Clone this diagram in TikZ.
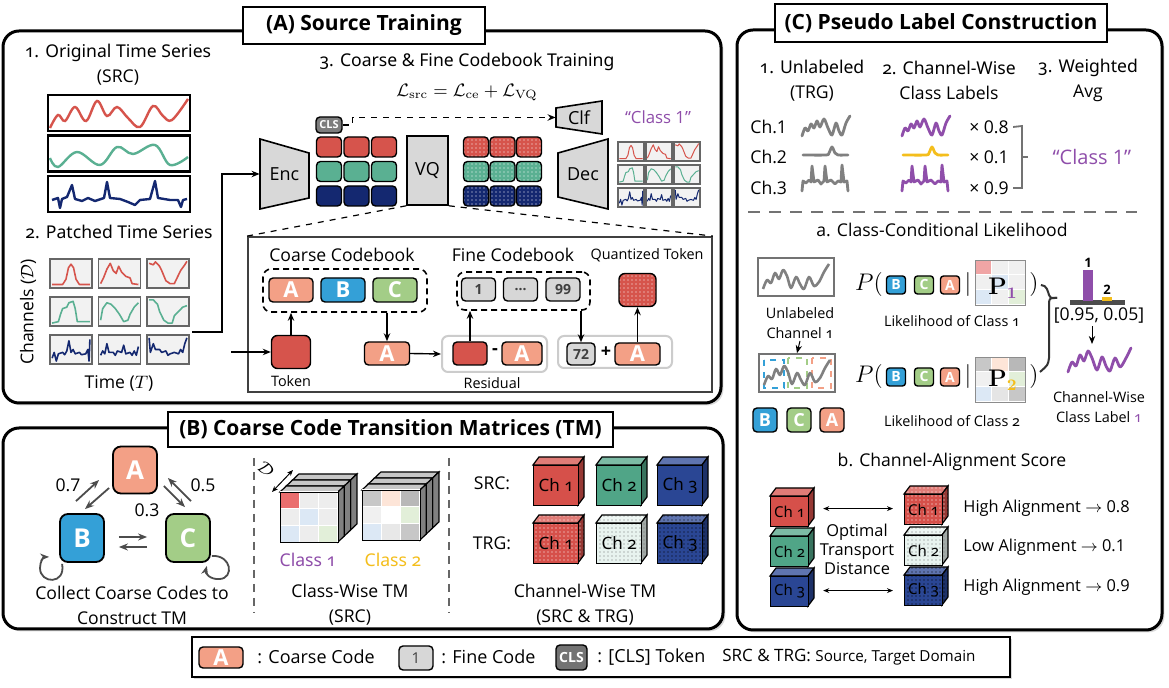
\documentclass[tikz,border=0pt]{standalone}
\usepackage[no-math]{fontspec}
\setmainfont{Open Sans}
\newfontfamily\osf{Noto Sans}[Numbers=OldStyle]
\usetikzlibrary{arrows.meta,patterns,shadows}

\definecolor{tsred}{RGB}{214,84,76}
\definecolor{tsgreen}{RGB}{90,176,146}
\definecolor{tsnavy}{RGB}{20,40,112}
\definecolor{tsgray}{RGB}{128,128,128}
\definecolor{codeA}{RGB}{243,160,134}
\definecolor{codeB}{RGB}{52,160,215}
\definecolor{codeC}{RGB}{163,205,135}
\definecolor{finegray}{RGB}{215,215,215}
\definecolor{clsgray}{RGB}{125,125,125}
\definecolor{clspurple}{RGB}{143,78,170}
\definecolor{clsyellow}{RGB}{244,190,28}
\definecolor{blockgray}{RGB}{216,216,216}
\definecolor{cbred}{RGB}{234,110,110}
\definecolor{cpink}{RGB}{240,165,165}
\definecolor{cblue}{RGB}{220,232,245}
\definecolor{cgreen}{RGB}{226,239,217}
\definecolor{corange}{RGB}{253,229,216}
\definecolor{cubered}{RGB}{214,80,74}
\definecolor{cubegreen}{RGB}{80,165,135}
\definecolor{cubenavy}{RGB}{42,70,148}
\definecolor{trgtwo}{RGB}{232,243,239}

\pgfdeclarepatternformonly{finedots}{\pgfqpoint{-1pt}{-1pt}}{\pgfqpoint{1pt}{1pt}}{\pgfqpoint{2pt}{2pt}}{\pgfpathcircle{\pgfqpoint{0pt}{0pt}}{0.35pt}\pgfusepath{fill}}

\tikzset{
  panel/.style={line width=1.5pt, rounded corners=8pt, fill=white,
    drop shadow={shadow xshift=1.2pt, shadow yshift=-1.2pt, opacity=0.3}},
  ptitle/.style={draw, line width=1.2pt, fill=white, inner sep=0pt,
    font=\bfseries\fontsize{10.5}{12}\selectfont},
  lbl/.style={font=\fontsize{8.8}{12.5}\selectfont, align=center, inner sep=1pt},
  sml/.style={font=\fontsize{7.2}{10}\selectfont, align=center, inner sep=1pt},
  legt/.style={font=\fontsize{9}{10}\selectfont, inner sep=0pt},
  chip/.style={draw, line width=0.7pt, rounded corners=2pt, inner sep=0pt},
  ccode/.style={chip, text=white, font=\bfseries\fontsize{11}{11}\selectfont,
    minimum width=22pt, minimum height=12pt},
  bigcode/.style={chip, rounded corners=4pt, line width=0.9pt, text=white,
    font=\bfseries\fontsize{13}{13}\selectfont, minimum width=22pt, minimum height=23.5pt},
  fcode/.style={chip, fill=finegray, text=black!75, font=\bfseries\fontsize{7}{7}\selectfont,
    minimum width=17pt, minimum height=11.5pt},
  pcode/.style={chip, rounded corners=1.5pt, text=white, font=\bfseries\fontsize{7}{7}\selectfont,
    minimum width=9.5pt, minimum height=9pt},
  scode/.style={chip, text=white, font=\bfseries\fontsize{9}{9}\selectfont,
    minimum width=12pt, minimum height=12pt},
  block/.style={draw, line width=0.8pt, fill=blockgray},
  blocktext/.style={font=\fontsize{9}{10}\selectfont, inner sep=0pt},
  dashbox/.style={draw, line width=0.8pt, rounded corners=4pt, dash pattern=on 3pt off 2pt},
  patchbox/.style={draw=black!60, line width=0.6pt, fill=black!5},
  arr/.style={-{Stealth[length=4pt,width=3.2pt]}, line width=0.7pt},
  tarr/.style={-{Stealth[length=4.5pt,width=3.5pt]}, line width=0.9pt, draw=black!70},
  dbl/.style={{Stealth[length=3pt,width=2.4pt]}-{Stealth[length=3pt,width=2.4pt]}, line width=0.5pt},
  serline/.style={line width=1.4pt, line join=round, line cap=round},
  brk/.style={draw=black!55, line width=0.9pt},
  divider/.style={draw=black!60, line width=0.9pt, dash pattern=on 4pt off 3pt}
}

% patch curves, unit box 10 x 10 (y down)
\newcommand{\shRa}{(0.5,8.8) (3,8.8) (3.8,7) (4.4,3) (5,1.8) (5.6,3) (6.2,7) (7,8.8) (9.5,8.8)}
\newcommand{\shRb}{(0.5,8.5) (1.2,6.5) (2,3.5) (2.8,1.5) (3.5,4) (4.2,5) (4.8,2.5) (5.5,4.5) (6.5,6) (7.5,6.5) (8,8.5) (9.5,8.8)}
\newcommand{\shRc}{(0.5,1.5) (1.5,2) (2,1) (3,2.5) (3.5,4) (4.5,7.5) (5.5,8.5) (6.5,8.5) (7,7) (8,4) (9,2) (9.5,0.8)}
\newcommand{\shGa}{(0.5,9) (2,8.5) (2.5,6) (3,4) (4,3.5) (4.5,2) (5.5,1.5) (6,4) (6.5,8.5) (9.5,8.5)}
\newcommand{\shGb}{(0.5,8) (1,4) (2,2) (3,2.5) (4,4) (5,6) (6,8.5) (7,8) (7.5,6) (8.5,3.5) (9.5,2)}
\newcommand{\shGc}{(0.5,1) (1.5,1) (2.5,2.5) (3,5) (4,8) (5,9) (6,9) (6.5,6.5) (7.5,5) (8.5,3.5) (9.5,3)}
\newcommand{\shNa}{(0.5,8) (1,6) (1.5,9) (2,6.5) (3,6) (3.5,6.8) (4,5.5) (4.5,2) (5,6) (5.5,5) (6,6.5) (7,6) (7.5,6.8) (8.5,6.5) (9,5) (9.3,9) (9.5,1.5)}
\newcommand{\shNb}{(0.5,7) (1,5.5) (1.5,6.5) (2,3) (2.5,6) (3.5,6) (4,7) (4.5,5.5) (5.5,6) (6,3.5) (6.5,6.5) (7.5,6) (8,7) (8.5,5.5) (9,7) (9.5,4)}
\newcommand{\shNc}{(0.5,1) (0.8,6) (1.5,3) (2,5) (3,5) (3.5,6) (4.5,5.5) (5,7) (5.5,6.5) (6.5,6) (7.5,6.5) (8,5) (8.5,6) (9,3) (9.5,1)}

% x0, y0, w, h, dx, dy, line width
\newcommand{\patchgrid}[7]{%
  \foreach \gc/\gr/\gcol/\gsh in {0/0/tsred/\shRa, 1/0/tsred/\shRb, 2/0/tsred/\shRc,
      0/1/tsgreen/\shGa, 1/1/tsgreen/\shGb, 2/1/tsgreen/\shGc,
      0/2/tsnavy/\shNa, 1/2/tsnavy/\shNb, 2/2/tsnavy/\shNc}{%
    \draw[patchbox] ({#1+\gc*#5},{#2+\gr*#6}) rectangle ++(#3,#4);
    \begin{scope}[shift={({#1+\gc*#5},{#2+\gr*#6})}, x=#3*0.05pt, y=-#4*0.05pt]
      \edef\tmpplot{\noexpand\draw[\gcol, line width=#7, line join=round] plot coordinates {\gsh};}%
      \tmpplot
    \end{scope}}}

% x, y, cell w, cell h, nine colours
\newcommand{\cellgrid}[5]{%
  \foreach \gcol [count=\ci from 0] in {#5}{%
    \pgfmathtruncatemacro\cgc{mod(\ci,3)}%
    \pgfmathtruncatemacro\cgr{(\ci-\cgc)/3}%
    \filldraw[fill=\gcol, draw=white, line width=0.5pt] ({#1+\cgc*#3},{#2+\cgr*#4}) rectangle ++(#3,#4);}}

% stacked class-wise TM: x, y, name, nine colours
\newcommand{\tmstack}[4]{%
  \foreach \k in {2,1,0}{%
    \draw[line width=0.6pt, fill=black!22] ({#1+6.3*\k},{#2-6*\k}) -- ++(6.3,-6) -- ++(58,0) -- ++(-6.3,6) -- cycle;
    \draw[line width=0.6pt, fill=black!50] ({#1+58+6.3*\k},{#2-6*\k}) -- ++(6.3,-6) -- ++(0,50) -- ++(-6.3,6) -- cycle;}
  \cellgrid{#1}{#2}{19.33}{16.67}{#4}
  \node[draw, line width=0.6pt, minimum width=29pt, minimum height=25pt, inner sep=0pt, anchor=north west] (#3) at (#1,#2) {};}

% channel cube: name, x, y, w, h, colour, pattern, label
\newcommand{\chcube}[8]{%
  \path[draw, line width=0.6pt, preaction={fill=#6!75!white}, #7] (#2,#3) -- ++(6,-8) -- ++(#4,0) -- ++(-6,8) -- cycle;
  \path[draw, line width=0.6pt, preaction={fill=#6!70!black}, #7] ({#2+#4},#3) -- ++(6,-8) -- ++(0,#5) -- ++(-6,8) -- cycle;
  \node[draw, line width=0.6pt, preaction={fill=#6}, #7, minimum width=#4*0.5pt, minimum height=#5*0.5pt,
    inner sep=0pt, anchor=north west] (#1) at (#2,#3) {#8};}

\begin{document}
\begin{tikzpicture}[x=0.5pt, y=-0.5pt]
\useasboundingbox (0,0) rectangle (1169,688);

% panels
\draw[panel] (3,31) rectangle (721,403);
\draw[panel] (3,428) rectangle (723,629);
\draw[panel] (737,30) rectangle (1162,630);
\node[ptitle, minimum width=121pt, minimum height=18.5pt] (tA) at (364,25.5) {(A) Source Training};
\node[ptitle, minimum width=222.5pt, minimum height=17.5pt] (tB) at (390.5,429.5) {(B) Coarse Code Transition Matrices (TM)};
\node[ptitle, minimum width=166pt, minimum height=19pt] (tC) at (941,23) {(C) Pseudo Label Construction};

%% (A) original series
\node[lbl] (orig) at (118,65) {\osf 1. Original Time Series\\(SRC)};
\node[draw, line width=1.2pt, minimum width=71pt, minimum height=18pt] (ser1) at (119,113) {};
\node[draw, line width=1.2pt, minimum width=71pt, minimum height=18pt] (ser2) at (119,153.5) {};
\node[draw, line width=1.2pt, minimum width=71pt, minimum height=18pt] (ser3) at (119,194) {};
\draw[tsred, line width=1.2pt] plot[smooth, tension=0.6] coordinates {(50,128) (58,115) (65,121) (75,107) (86,121) (97,101) (107,116) (117,107) (128,118) (140,127) (153,106) (163,116) (172,120) (188,99)};
\draw[tsgreen, line width=1.2pt] plot[smooth, tension=0.6] coordinates {(50,158) (58,167) (77,152) (100,165) (117,147) (133,154) (155,145) (170,165) (188,157)};
\draw[tsnavy, line width=1.2pt, line join=round] plot coordinates {(52,200) (58,198) (60,208) (62,199) (67,197) (72,185) (75,199) (82,201) (88,198) (95,201) (104,198) (107,182) (110,198) (120,199) (128,202) (135,205) (140,200) (150,199) (155,181) (158,198) (170,200) (178,200) (181,207) (183,200) (187,199)};

%% (A) patched series
\node[lbl] (patt) at (119,232) {\osf 2. Patched Time Series};
\node[lbl, rotate=90] (chan) at (28,312) {Channels ($\mathcal{D}$)};
\patchgrid{50}{259}{42}{29}{48.5}{38}{0.8pt}
\node[lbl] (time) at (119,383) {Time ($T$)};

%% (A) codebook training
\node[lbl] (cfct) at (467,62) {\osf 3. Coarse \& Fine Codebook Training};
\node[font=\fontsize{9}{10}\selectfont] (loss) at (467,93) {$\mathcal{L}_{\mathrm{src}}=\mathcal{L}_{\mathrm{ce}}+\mathcal{L}_{\mathrm{VQ}}$};

\draw[block] (260,139) -- (309,153) -- (309,198) -- (260,209) -- cycle;
\node[blocktext, minimum width=24.5pt, minimum height=35pt] (enc) at (284.5,174) {Enc};
\node[block, blocktext, minimum width=20.5pt, minimum height=34.5pt] (vq) at (427.5,170.5) {VQ};
\draw[block] (558,153) -- (608,139) -- (608,209) -- (558,197) -- cycle;
\node[blocktext, minimum width=25pt, minimum height=35pt] (dec) at (583,174) {Dec};
\draw[block] (556,108) -- (602,101) -- (602,134) -- (556,127) -- cycle;
\node[blocktext, minimum width=23pt, minimum height=13pt] (clf) at (579,117.5) {Clf};
\coordinate (pgout) at (192,332);
\draw[arr] (pgout) -- (222,332) |- (enc.west);

\node[chip, fill=clsgray, minimum width=13pt, minimum height=8pt, text=white,
  font=\bfseries\fontsize{5.5}{6}\selectfont] (cls) at (329,125) {CLS};
\draw[arr, dashed] (cls.east) -- ++(10,0) |- (clf.west);

\foreach \r/\col in {0/tsred, 1/tsgreen, 2/tsnavy}
  \foreach \c in {0,1,2}{
    \node[chip, fill=\col, minimum width=12.5pt, minimum height=10pt] (tk-\r-\c) at ({329+27.5*\c},{147+24.5*\r}) {};
    \node[chip, preaction={fill=\col}, pattern=finedots, pattern color=white,
      minimum width=12.5pt, minimum height=10pt] (qt-\r-\c) at ({476+26.5*\c},{147+24.5*\r}) {};
  }
\node[lbl, text=clspurple, font=\fontsize{8.4}{10}\selectfont] (out1) at (658,117) {“Class 1”};
\patchgrid{618}{142}{26}{19}{28}{23}{0.5pt}

%% (A) codebook detail
\node[draw=black!75, line width=0.9pt, minimum width=232pt, minimum height=77.5pt] (detail) at (480,314.5) {};
\draw[dashed, line width=0.6pt] (vq.south west) -- (detail.north west);
\draw[dashed, line width=0.6pt] (vq.south east) -- (detail.north east);

\node[lbl] (ccbt) at (342,255) {Coarse Codebook};
\node[dashbox, minimum width=82pt, minimum height=21.5pt] (ccb) at (345,290.5) {};
\node[ccode, fill=codeA] (cbA) at (291,290) {A};
\node[ccode, fill=codeB] (cbB) at (343,290) {B};
\node[ccode, fill=codeC] (cbC) at (395,290) {C};
\node[chip, fill=tsred, rounded corners=3pt, minimum width=19.5pt, minimum height=16.5pt] (tok) at (291,352) {};
\node[sml] (tokl) at (291,381) {Token};
\coordinate (tokin) at (231,352);
\draw[arr] (tokin) -- (tok.west);
\draw[arr] (tok.north) -- (tok |- ccb.south);
\node[ccode, fill=codeA, minimum width=22.5pt, minimum height=11.5pt] (selA) at (387,353.5) {A};
\draw[arr] (selA |- ccb.south) -- (selA.north);

\node[draw=black!20, line width=1pt, rounded corners=3pt, minimum width=52.5pt, minimum height=18pt] (res) at (494.5,354) {};
\node[chip, fill=tsred, minimum width=17pt, minimum height=11.5pt] (resT) at (470,353.5) {};
\node[font=\bfseries\fontsize{9}{9}\selectfont] (minus) at (495,352) {-};
\node[ccode, fill=codeA, minimum width=20pt, minimum height=11.5pt] (resA) at (522,353.5) {A};
\node[sml] (resl) at (492,383) {Residual};
\draw[arr] (selA.east) -- (res.west);

\node[lbl] (fcbt) at (513,255) {Fine Codebook};
\node[dashbox, minimum width=66.5pt, minimum height=19pt] (fcb) at (523.5,291) {};
\node[fcode] (f1) at (478.5,289.5) {1};
\node[fcode] (fdots) at (520.5,289.5) {…};
\node[fcode] (f99) at (563,289.5) {99};
\draw[arr] (resT.north) -- (resT |- fcb.south);

\node[draw=black!20, line width=1pt, rounded corners=3pt, minimum width=57pt, minimum height=16pt] (qb) at (615,352) {};
\node[fcode, minimum width=14pt, minimum height=11pt] (f72) at (581,354) {72};
\node[font=\bfseries\fontsize{9}{9}\selectfont] (plus) at (606,352) {+};
\node[ccode, fill=codeA, minimum width=22.5pt, minimum height=11pt] (qA) at (637.5,354) {A};
\draw[arr] (f72 |- fcb.south) -- (f72.north);
\node[sml] (qtl) at (647,255) {Quantized Token};
\node[chip, preaction={fill=tsred}, pattern=finedots, pattern color=white, rounded corners=3pt,
  minimum width=18.5pt, minimum height=16.5pt] (qtok) at (637.5,290) {};
\draw[arr] (qA.north) -- (qtok.south);

%% (B) transitions
\node[bigcode, fill=codeA] (nA) at (135,470) {A};
\node[bigcode, fill=codeB, minimum height=24pt] (nB) at (82,538) {B};
\node[bigcode, fill=codeC, minimum height=24pt] (nC) at (188,538) {C};
\draw[tarr] ([shift={(-6,-12)}]nB.north) -- ([shift={(-13,10)}]nA.west);
\draw[tarr] ([shift={(-3,18)}]nA.west) -- ([shift={(3,-4)}]nB.north);
\draw[tarr] ([shift={(6,16)}]nA.east) -- ([shift={(-3,-6)}]nC.north);
\draw[tarr] ([shift={(3,-12)}]nC.north) -- ([shift={(10,8)}]nA.east);
\draw[tarr] ([shift={(14,-1)}]nB.east) -- ([shift={(-18,-1)}]nC.west);
\draw[tarr] ([shift={(-18,9)}]nC.west) -- ([shift={(14,9)}]nB.east);
\draw[tarr] ([shift={(3,1)}]nB.south west) .. controls (66,585) and (40,584) .. (40,568)
  .. controls (40,561) and (44,557) .. ([shift={(-10,-6)}]nB.south west);
\draw[tarr] ([shift={(1,-7)}]nC.south east) .. controls (232,555) and (234,578) .. (220,579)
  .. controls (210,580) and (205,573) .. ([shift={(-4,3)}]nC.south east);
\node[lbl] (w07) at (68,485) {0.7};
\node[lbl] (w05) at (203,485) {0.5};
\node[lbl] (w03) at (147,510) {0.3};
\node[lbl] (collect) at (132,605) {Collect Coarse Codes to\\Construct TM};
\draw[divider] (254,458) -- (254,613);
\draw[divider] (449,458) -- (449,613);

%% (B) class-wise TM
\tmstack{280}{492}{cw1}{cbred,black!7,black!7,black!7,cblue,black!7,cblue,black!7,cgreen}
\tmstack{362}{490}{cw2}{black!22,corange,black!28,black!6,white,cgreen,cblue,black!9,black!22}
\draw[dbl] ([shift={(-8,0)}]cw1.north west) -- ++(21,-22);
\node[lbl, rotate=-45] (dlab) at (266,469) {$\mathcal{D}$};
\node[lbl, text=clspurple] (cl1) at (308,560) {\osf Class 1};
\node[lbl, text=clsyellow] (cl2) at (393,560) {\osf Class 2};
\node[lbl] (cwtm) at (350,605) {Class-Wise TM\\(SRC)};

%% (B) channel-wise TM
\node[lbl] (srcl) at (492,483) {SRC:};
\node[lbl] (trgl) at (492,543) {TRG:};
\begin{scope}[font=\osf\fontsize{8.5}{9}\selectfont]
\chcube{s1}{533}{465}{45}{40}{cubered}{}{Ch 1}
\chcube{s2}{596}{465}{45}{40}{cubegreen}{}{Ch 2}
\chcube{s3}{657}{465}{45}{40}{cubenavy}{}{Ch 3}
\chcube{t1}{533}{523}{45}{40}{cubered}{pattern=finedots, pattern color=white}{Ch 1}
\chcube{t2}{596}{523}{45}{40}{trgtwo}{pattern=finedots, pattern color=black!55}{Ch 2}
\chcube{t3}{657}{523}{45}{40}{cubenavy}{pattern=finedots, pattern color=black}{Ch 3}
\end{scope}
\node[lbl] (chwtm) at (585,605) {Channel-Wise TM\\(SRC \& TRG)};

%% (C) weighted average
\node[lbl] (c1h) at (812,80.5) {\osf 1. Unlabeled\\(TRG)};
\node[lbl] (c2h) at (949,80.5) {\osf 2. Channel-Wise\\Class Labels};
\node[lbl] (c3h) at (1088,80.5) {\osf 3. Weighted\\Avg};
\foreach \i/\yy in {1/127, 2/157, 3/188}
  \node[lbl, anchor=west] (chl\i) at (748,\yy) {Ch.\i};
\foreach \dx/\ca/\cb in {0/tsgray/tsgray, 100/clspurple/clsyellow}{
  \begin{scope}[shift={(\dx,0)}]
    \draw[\ca, serline] plot[smooth, tension=0.5] coordinates {(802,136) (805,128) (808,131) (811,124) (814,128) (817,121) (820,127) (824,119) (828,128) (832,135) (836,123) (839,131) (842,135) (846,123) (850,116)};
    \draw[\cb, serline] plot[smooth, tension=0.5] coordinates {(803,155) (826,155) (829,153) (832,147) (835,153) (838,155) (848,155)};
    \draw[\ca, serline] plot coordinates {(802,191) (803,181) (806,183) (809,180) (811,182) (812,166) (814,182) (818,180) (821,184) (824,181) (825,166) (827,182) (831,180) (835,184) (838,181) (841,182) (842,165) (844,182) (847,181) (848,191)};
  \end{scope}}
\node[lbl] (m1) at (989,127) {× 0.8};
\node[lbl] (m2) at (989,157) {× 0.1};
\node[lbl] (m3) at (989,188) {× 0.9};
\coordinate (bk1) at (1022,126);
\coordinate (bk3) at (1022,188);
\draw[brk] ([xshift=1pt]m1.east) -- (bk1) -- (bk3) -- ([xshift=1pt]m3.east);
\draw[brk] (bk1 |- m2) -- ++(6,0);
\node[lbl, text=clspurple, font=\fontsize{10}{11}\selectfont] (wavg) at (1092,157) {“Class 1”};
\draw[draw=black!55, line width=1.2pt, dash pattern=on 6pt off 4.5pt] (748,212) -- (1137,212);

%% (C) a. likelihood
\node[lbl] (ccl) at (942,230) {a. Class-Conditional Likelihood};
\node[draw=black!55, line width=0.8pt, minimum width=38pt, minimum height=19pt] (unl) at (796,277) {};
\draw[tsgray, line width=1.3pt, line join=round] plot[smooth, tension=0.5] coordinates {(763,289) (767,280) (771,283) (775,273) (779,279) (783,270) (787,276) (791,288) (796,277) (800,284) (804,289) (809,277) (814,286) (819,282) (824,272) (829,264)};
\node[sml] (unll) at (800,323) {Unlabeled\\Channel {\osf 1}};
\node[draw=black!55, line width=0.8pt, minimum width=38pt, minimum height=19pt] (seg) at (797,373) {};
\draw[codeB, dashed, line width=0.9pt] (764,360) rectangle (784,388);
\draw[codeC, dashed, line width=0.9pt] (788,358) rectangle (807,388);
\draw[codeA, dashed, line width=0.9pt] (812,358) rectangle (831,388);
\draw[tsgray, line width=1.3pt, line join=round, shift={(1,96)}] plot[smooth, tension=0.5] coordinates {(763,289) (767,280) (771,283) (775,273) (779,279) (783,270) (787,276) (791,288) (796,277) (800,284) (804,289) (809,277) (814,286) (819,282) (824,272) (829,264)};
\draw[arr, line width=0.5pt] (unll.south) -- (seg.north);
\node[scode, fill=codeB] (sB) at (765,420) {B};
\node[scode, fill=codeC] (sC) at (799,420) {C};
\node[scode, fill=codeA] (sA) at (832,420) {A};

\cellgrid{975}{260}{16.67}{15}{cpink,black!6,black!6,black!6,cblue,black!6,cblue,black!6,cgreen}
\cellgrid{975}{357}{16.67}{15}{black!22,corange,black!28,black!6,white,cgreen,cblue,black!10,black!22}
\foreach \i/\yy/\my/\nc in {1/285/260/clspurple, 2/377/357/clsyellow}{
  \node[font=\fontsize{13}{14}\selectfont, inner sep=0pt] (po\i) at (869,\yy) {$P($};
  \node[pcode, fill=codeB] (pB\i) at (896,\yy) {B};
  \node[pcode, fill=codeC] (pC\i) at (924,\yy) {C};
  \node[pcode, fill=codeA] (pA\i) at (950,\yy) {A};
  \node[font=\fontsize{13}{14}\selectfont, inner sep=0pt] (pbar\i) at (968,\yy) {$|$};
  \node[draw=black!45, line width=0.6pt, minimum width=25pt, minimum height=22.5pt, inner sep=0pt,
    anchor=north west] (pmat\i) at (975,\my) {};
  \node[font=\fontsize{12}{13}\selectfont, inner sep=0pt] (pm\i) at (1003,{\yy+3}) {$\mathbf{P}_{\textcolor{\nc}{\mathbf{\i}}}$};
  \node[font=\fontsize{13}{14}\selectfont, inner sep=0pt] (pc\i) at (1034,\yy) {$)$};
  \node[sml] (lik\i) at (952,{\yy+36+8*(\i-1)}) {Likelihood of Class {\osf\i}};
}
\coordinate (btip) at (1057,298);
\draw[line width=1pt, black!80] ([xshift=1pt]pc1.east) .. controls (1047,285) and (1048,292) .. (1049,295)
  .. controls (1050,298) .. (btip);
\draw[line width=1pt, black!80] (btip) .. controls (1050,298) .. (1049,302) -- (1049,358)
  .. controls (1048,365) .. ([shift={(1,-5)}]pc2.east);

\node[fill=black!70, minimum width=27.5pt, minimum height=2.2pt, inner sep=0pt] (base) at (1097.5,302.5) {};
\node[fill=clspurple, minimum width=5pt, minimum height=15.5pt, inner sep=0pt, anchor=south] (bar1) at (1088,301.5) {};
\node[fill=clsyellow, minimum width=5pt, minimum height=2pt, inner sep=0pt, anchor=south] (bar2) at (1107,301.5) {};
\node[font=\bfseries\fontsize{6.5}{7}\selectfont, anchor=south, inner sep=1pt] (b1l) at (bar1.north) {1};
\node[font=\bfseries\fontsize{6.5}{7}\selectfont, anchor=south, inner sep=1pt] (b2l) at (bar2.north) {2};
\node[lbl] (probs) at (1099,316) {[0.95, 0.05]};
\coordinate (pcv) at (1092,344);
\draw[arr, line width=0.5pt] (probs.south -| pcv) -- (pcv);
\draw[clspurple, serline] plot[smooth, tension=0.5] coordinates {(1068,372) (1072,362) (1076,366) (1080,355) (1084,361) (1088,351) (1092,358) (1097,370) (1102,357) (1106,366) (1110,371) (1115,358) (1120,367) (1125,360) (1131,348)};
\node[sml] (cwcl) at (1099,407) {Channel-Wise\\Class Label {\osf\textcolor{clspurple}{1}}};

%% (C) b. alignment
\node[lbl] (cas) at (952,462) {b. Channel-Alignment Score};
\begin{scope}[font=\osf\fontsize{7.5}{8}\selectfont]
\chcube{l1}{770}{496}{38}{30}{cubered}{}{Ch 1}
\chcube{l2}{770}{536}{38}{30}{cubegreen}{}{Ch 2}
\chcube{l3}{770}{576}{38}{30}{cubenavy}{}{Ch 3}
\chcube{r1}{904}{494}{38}{30}{cubered}{pattern=finedots, pattern color=white}{Ch 1}
\chcube{r2}{904}{535}{38}{30}{trgtwo}{pattern=finedots, pattern color=black!55}{Ch 2}
\chcube{r3}{904}{575}{38}{30}{cubenavy}{pattern=finedots, pattern color=black}{Ch 3}
\end{scope}
\draw[dbl] ([shift={(14,-3)}]l1.east) -- ([shift={(-11,-3)}]l1.east -| r1.west);
\draw[dbl] ([shift={(14,-1)}]l3.east) -- ([shift={(-11,-1)}]l3.east -| r3.west);
\node[lbl, font=\fontsize{8.2}{9.5}\selectfont] (otd) at (857,549) {Optimal\\Transport\\Distance};
\node[lbl, anchor=west, font=\fontsize{8.2}{9}\selectfont] (al1) at (961,508) {High Alignment $\rightarrow$ 0.8};
\node[lbl, anchor=west, font=\fontsize{8.2}{9}\selectfont] (al2) at (961,547) {Low Alignment $\rightarrow$ 0.1};
\node[lbl, anchor=west, font=\fontsize{8.2}{9}\selectfont] (al3) at (961,587) {High Alignment $\rightarrow$ 0.9};

%% legend
\node[draw, line width=1.3pt, fill=white, drop shadow={shadow xshift=1.2pt, shadow yshift=-1.2pt, opacity=0.3},
  minimum width=409pt, minimum height=20pt] (leg) at (601,657) {};
\node[ccode, fill=codeA, minimum width=22pt, minimum height=10.5pt] (lgA) at (221,657.5) {A};
\node[legt, anchor=west] (lgAt) at (257,657) {: Coarse Code};
\node[fcode, minimum width=17pt, minimum height=12pt, font=\fontsize{7.5}{8}\selectfont] (lg1) at (416,658) {1};
\node[legt, anchor=west] (lg1t) at (441,657) {: Fine Code};
\node[chip, fill=black!55, minimum width=15.5pt, minimum height=12.5pt, text=white,
  font=\bfseries\fontsize{7}{7}\selectfont] (lgC) at (571.5,657.5) {CLS};
\node[legt, anchor=west] (lgCt) at (597,657) {: [CLS] Token};
\node[legt, anchor=west, font=\fontsize{8.5}{10}\selectfont] (lgS) at (722,657) {SRC \& TRG: {\fontsize{7.6}{8}\selectfont Source, Target Domain}};
\end{tikzpicture}
\end{document}
